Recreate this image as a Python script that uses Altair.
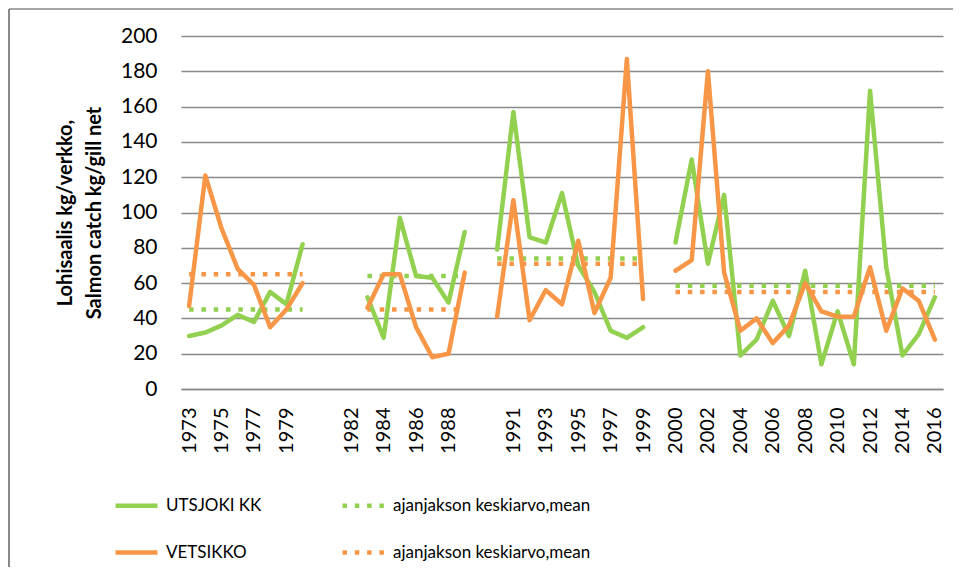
import altair as alt
import pandas as pd

# x categories (Excel category axis with empty separator rows between periods)
categories = (
    [str(y) for y in range(1973, 1981)]
    + ["gap_a", "gap_b"]
    + [str(y) for y in range(1982, 1990)]
    + ["gap_c"]
    + [str(y) for y in range(1990, 2000)]
    + ["gap_d"]
    + [str(y) for y in range(2000, 2017)]
)

tick_labels = ["1973", "1975", "1977", "1979", "1982", "1984", "1986", "1988",
               "1991", "1993", "1995", "1997", "1999", "2000", "2002", "2004",
               "2006", "2008", "2010", "2012", "2014", "2016"]

period_years = [
    list(range(1973, 1981)),
    list(range(1983, 1990)),
    list(range(1990, 2000)),
    list(range(2000, 2017)),
]

utsjoki = [
    [30, 32, 36, 42, 38, 55, 48, 82],
    [52, 29, 97, 64, 63, 49, 89],
    [79, 157, 86, 83, 111, 70, 55, 33, 29, 35],
    [83, 130, 71, 110, 19, 28, 50, 30, 67, 14, 44, 14, 169, 69, 19, 31, 52],
]
vetsikko = [
    [47, 121, 91, 68, 59, 35, 45, 60],
    [46, 65, 65, 35, 18, 20, 66],
    [41, 107, 39, 56, 48, 84, 43, 63, 187, 51],
    [67, 73, 180, 66, 33, 40, 26, 36, 60, 44, 41, 41, 69, 33, 57, 50, 28],
]
utsjoki_mean = [45, 64, 74, 58.5]
vetsikko_mean = [65, 45, 71, 55]

# legend is filled column by column: column 1 = solid lines, column 2 = means
series_keys = ["UTSJOKI KK", "VETSIKKO", "UTSJOKI mean", "VETSIKKO mean"]
series_colors = ["#92D050", "#F79646", "#92D050", "#F79646"]
series_dash = [[1, 0], [1, 0], [4.5, 7.8], [4.5, 7.8]]

line_rows = []
mean_rows = []
for p, years in enumerate(period_years):
    for name, vals in (("UTSJOKI KK", utsjoki), ("VETSIKKO", vetsikko)):
        for yr, v in zip(years, vals[p]):
            line_rows.append({"year": str(yr), "value": v, "series": name, "period": p})
    for name, means in (("UTSJOKI mean", utsjoki_mean), ("VETSIKKO mean", vetsikko_mean)):
        mean_rows.append({"start": str(years[0]), "end": str(years[-1]),
                          "value": means[p], "series": name, "period": p})

line_df = pd.DataFrame(line_rows)
mean_df = pd.DataFrame(mean_rows)

FONT = "Lato"

x_scale = alt.Scale(type="point", domain=categories, padding=0.5)
y_scale = alt.Scale(domain=[0, 200])
color_scale = alt.Scale(domain=series_keys, range=series_colors)
dash_scale = alt.Scale(domain=series_keys, range=series_dash)

legend = alt.Legend(
    orient="none", legendX=-68, legendY=446, columns=2, title=None,
    symbolType="stroke", symbolSize=1764, symbolStrokeWidth=4.5,
    labelFont=FONT, labelFontSize=17, labelColor="#000000", labelOffset=6,
    labelLimit=400, columnPadding=71, rowPadding=14, padding=0,
    labelExpr="indexof(datum.label, 'mean') >= 0 ? 'ajanjakson keskiarvo,mean' : datum.label",
)

x_axis = alt.Axis(
    values=tick_labels, labelAngle=270, labelFont=FONT, labelFontSize=20,
    labelColor="#000000", ticks=False, labelPadding=18, domain=True,
    domainColor="#898989", domainWidth=1.5, grid=False, title=None,
)
y_axis = alt.Axis(
    values=list(range(0, 201, 20)), labelFont=FONT, labelFontSize=21,
    labelColor="#000000", ticks=False, labelPadding=24, domain=False,
    grid=True, gridColor="#898989", gridWidth=1.5,
    title=["Lohisaalis kg/verkko,", "Salmon catch kg/gill net"],
    titleFont=FONT, titleFontSize=20, titleFontWeight="bold", titleColor="#000000",
    titlePadding=16, titleLineHeight=29,
)

means = alt.Chart(mean_df).mark_rule(strokeWidth=4.5).encode(
    x=alt.X("start:N", scale=x_scale, axis=x_axis),
    x2=alt.X2("end"),
    y=alt.Y("value:Q", scale=y_scale, axis=y_axis),
    color=alt.Color("series:N", scale=color_scale, legend=legend),
    strokeDash=alt.StrokeDash("series:N", scale=dash_scale, legend=legend),
)

lines = alt.Chart(line_df).mark_line(strokeWidth=4.5, strokeCap="round", strokeJoin="round").encode(
    x=alt.X("year:N", scale=x_scale, axis=x_axis),
    y=alt.Y("value:Q", scale=y_scale, axis=y_axis),
    color=alt.Color("series:N", scale=color_scale, legend=legend),
    strokeDash=alt.StrokeDash("series:N", scale=dash_scale, legend=legend),
    detail="period:N",
)

frame_src = pd.DataFrame({"a": [0]})
frame_left = alt.Chart(frame_src).mark_rule(color="#898989", strokeWidth=2).encode(
    x=alt.value(-172), y=alt.value(-27), y2=alt.value(531)
)
frame_top = alt.Chart(frame_src).mark_rule(color="#898989", strokeWidth=1.5).encode(
    x=alt.value(-172), x2=alt.value(772), y=alt.value(-27)
)

chart = alt.layer(frame_left, frame_top, means, lines).properties(
    width=762, height=353,
    autosize=alt.AutoSizeParams(type="none"),
    padding={"left": 173, "top": 28, "right": 10, "bottom": 178},
).configure_view(strokeOpacity=0)

chart.save("out.html", embed_options={"renderer": "svg", "actions": False})
